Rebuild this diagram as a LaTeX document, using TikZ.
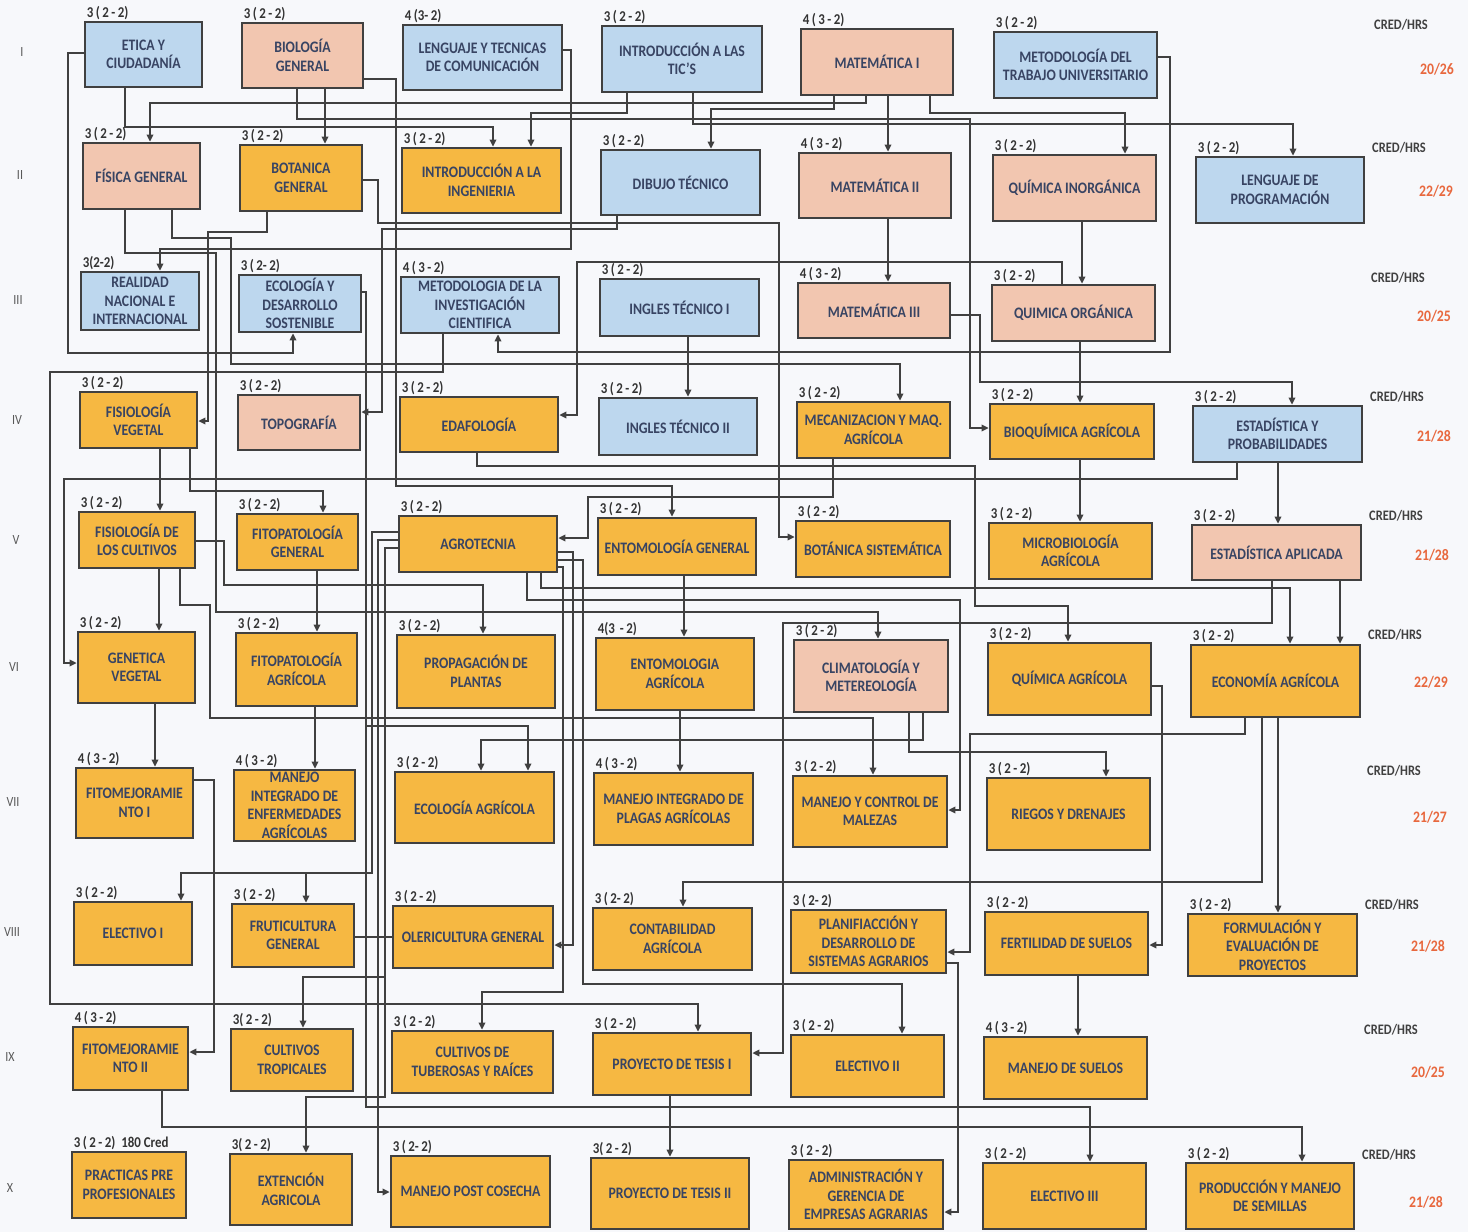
\documentclass[tikz,border=0pt]{standalone}
\usepackage{fontspec}
\setmainfont{Carlito}[FakeStretch=0.86]
\usetikzlibrary{arrows.meta}
\definecolor{cB}{HTML}{BDD7EE}
\definecolor{cS}{HTML}{F2C6B0}
\definecolor{cO}{HTML}{F6B842}
\definecolor{cT}{HTML}{384463}
\definecolor{cL}{HTML}{404040}
\definecolor{cBG}{HTML}{F7F8FB}
\definecolor{cR}{HTML}{E8683E}
\pgfdeclarelayer{bg}
\pgfsetlayers{bg,main}
\newcommand{\crA}{3\,(\,2\,-\,2)}
\newcommand{\crB}{4\,(\,3\,-\,2)}
\newcommand{\bx}[8]{%
  \node[box,fill=#6,minimum width=#4,minimum height=#5] (#1) at (#2,#3) {#7};
  \node[cred] (#1c) at ([xshift=2pt]#1.north west) {#8};}
\tikzset{
  box/.style={draw=cL,line width=2.7pt,inner sep=1pt,align=center,text=cT,
    font=\fontsize{16}{18.5}\selectfont\bfseries},
  cred/.style={anchor=south west,inner sep=1pt,text=black!80,
    font=\fontsize{15}{15}\selectfont\bfseries},
  conn/.style={draw=cL,line width=2.1pt},
  arr/.style={conn,-{Triangle[length=7pt,width=6.5pt]}},
  roman/.style={text=black!65,font=\fontsize{14}{14}\selectfont},
  chr/.style={text=black!75,font=\fontsize{14.5}{15}\selectfont\bfseries},
  num/.style={text=cR,font=\fontsize{16}{16}\selectfont\bfseries}
}
\begin{document}
\begin{tikzpicture}[x=1pt,y=-1pt]
\useasboundingbox (0,0) rectangle (1468,1232);
% Row I
\bx{eti}{143.5}{54.5}{117}{65}{cB}{ETICA Y\\CIUDADANÍA}{\crA}
\bx{bio}{302.5}{55.5}{121}{65}{cS}{BIOLOGÍA\\GENERAL}{\crA}
\bx{len}{482.5}{57.5}{159}{65}{cB}{LENGUAJE Y TECNICAS\\DE COMUNICACIÓN}{4\,(3-\,2)}
\bx{tic}{682}{59}{160}{66}{cB}{INTRODUCCIÓN A LAS\\TIC’S}{\crA}
\bx{ma1}{877}{62}{152}{66}{cS}{MATEMÁTICA I}{\crB}
\bx{mtu}{1075.5}{65}{163}{66}{cB}{METODOLOGÍA DEL\\TRABAJO UNIVERSITARIO}{\crA}
% Row II
\bx{fis}{141.5}{176}{117}{66}{cS}{FÍSICA GENERAL}{\crA}
\bx{bot}{301}{178}{122}{66}{cO}{BOTANICA\\GENERAL}{\crA}
\bx{ing}{481.5}{180.5}{159}{65}{cO}{INTRODUCCIÓN A LA\\INGENIERIA}{\crA}
\bx{dib}{680.5}{182.5}{159}{65}{cB}{DIBUJO TÉCNICO}{\crA}
\bx{ma2}{875}{185.5}{152}{65}{cS}{MATEMÁTICA II}{\crB}
\bx{qin}{1074.5}{188}{163}{66}{cS}{QUÍMICA INORGÁNICA}{\crA}
\bx{lpr}{1280}{190}{168}{66}{cB}{LENGUAJE DE\\PROGRAMACIÓN}{\crA}
% Row III
\bx{rea}{140}{301}{118}{58}{cB}{\fontsize{16}{17}\selectfont REALIDAD\\NACIONAL E\\INTERNACIONAL}{3(2-2)}
\bx{eco}{300}{303.5}{122}{57}{cB}{\fontsize{16}{17}\selectfont ECOLOGÍA Y\\DESARROLLO\\SOSTENIBLE}{3\,(\,2-\,2)}
\bx{mic}{480}{305}{158}{56}{cB}{\fontsize{16}{17}\selectfont METODOLOGIA DE LA\\INVESTIGACIÓN\\CIENTIFICA}{\crB}
\bx{in1}{679.5}{307.5}{159}{57}{cB}{INGLES TÉCNICO I}{\crA}
\bx{ma3}{874}{310.5}{152}{55}{cS}{MATEMÁTICA III}{\crB}
\bx{qor}{1073.5}{313}{163}{56}{cS}{QUIMICA ORGÁNICA}{\crA}
% Row IV
\bx{fve}{138.5}{420}{117}{56}{cO}{FISIOLOGÍA\\VEGETAL}{\crA}
\bx{top}{299}{422.5}{122}{55}{cS}{TOPOGRAFÍA}{\crA}
\bx{eda}{479}{424.5}{158}{55}{cO}{EDAFOLOGÍA}{\crA}
\bx{in2}{678}{426.5}{158}{57}{cB}{INGLES TÉCNICO II}{\crA}
\bx{mec}{873.5}{430}{153}{56}{cO}{MECANIZACION Y MAQ.\\AGRÍCOLA}{\crA}
\bx{bqa}{1072}{431.5}{164}{55}{cO}{BIOQUÍMICA AGRÍCOLA}{\crA}
\bx{epr}{1277.5}{434}{169}{56}{cB}{ESTADÍSTICA Y\\PROBABILIDADES}{\crA}
% Row V
\bx{fcu}{137}{540}{116}{56}{cO}{FISIOLOGÍA DE\\LOS CULTIVOS}{\crA}
\bx{fge}{297.5}{542}{121}{56}{cO}{FITOPATOLOGÍA\\GENERAL}{\crA}
\bx{agr}{478}{544}{158}{56}{cO}{AGROTECNIA}{\crA}
\bx{ege}{677}{546.5}{158}{57}{cO}{ENTOMOLOGÍA GENERAL}{\crA}
\bx{bsi}{873}{549}{154}{56}{cO}{BOTÁNICA SISTEMÁTICA}{\crA}
\bx{mba}{1070.5}{551}{163}{56}{cO}{MICROBIOLOGÍA\\AGRÍCOLA}{\crA}
\bx{eap}{1276.5}{552.5}{169}{55}{cS}{ESTADÍSTICA APLICADA}{\crA}
% Row VI
\bx{gve}{136.5}{667.5}{117}{71}{cO}{GENETICA\\VEGETAL}{\crA}
\bx{fag}{296.5}{669.5}{121}{73}{cO}{FITOPATOLOGÍA\\AGRÍCOLA}{\crA}
\bx{ppl}{476}{671.5}{158}{73}{cO}{PROPAGACIÓN DE\\PLANTAS}{\crA}
\bx{eag}{675}{674}{158}{72}{cO}{ENTOMOLOGIA\\AGRÍCOLA}{4(3\,\,-\,2)}
\bx{cli}{871}{676}{154}{72}{cS}{CLIMATOLOGÍA Y\\METEREOLOGÍA}{\crA}
\bx{qag}{1069.5}{679}{163}{72}{cO}{QUÍMICA AGRÍCOLA}{\crA}
\bx{eca}{1275.5}{681}{169}{72}{cO}{ECONOMÍA AGRÍCOLA}{\crA}
% Row VII
\bx{fm1}{134.5}{803}{117}{70}{cO}{FITOMEJORAMIE\\NTO I}{\crB}
\bx{mie}{294.5}{805.5}{121}{71}{cO}{\fontsize{16}{17.5}\selectfont MANEJO\\INTEGRADO DE\\ENFERMEDADES\\AGRÍCOLAS}{\crB}
\bx{eag2}{474.5}{807.5}{159}{71}{cO}{ECOLOGÍA AGRÍCOLA}{\crA}
\bx{mip}{673.5}{809}{159}{72}{cO}{MANEJO INTEGRADO DE\\PLAGAS AGRÍCOLAS}{\crB}
\bx{mcm}{870}{811.5}{154}{71}{cO}{MANEJO Y CONTROL DE\\MALEZAS}{\crA}
\bx{rie}{1068.5}{814}{163}{72}{cO}{RIEGOS Y DRENAJES}{\crA}
% Row VIII
\bx{el1}{133}{933.5}{118}{63}{cO}{ELECTIVO I}{\crA}
\bx{fru}{293}{935.5}{122}{63}{cO}{FRUTICULTURA\\GENERAL}{\crA}
\bx{ole}{473}{937}{160}{62}{cO}{OLERICULTURA GENERAL}{\crA}
\bx{con}{672.5}{939}{159}{62}{cO}{CONTABILIDAD\\AGRÍCOLA}{3\,(\,2-\,2)}
\bx{pla}{868.5}{941.5}{155}{63}{cO}{\fontsize{16}{18}\selectfont PLANIFIACCIÓN Y\\DESARROLLO DE\\SISTEMAS AGRARIOS}{3\,(\,2-\,2)}
\bx{fer}{1066.5}{943.5}{163}{63}{cO}{FERTILIDAD DE SUELOS}{\crA}
\bx{for}{1272.5}{945}{169}{62}{cO}{\fontsize{16}{18}\selectfont FORMULACIÓN Y\\EVALUACIÓN DE\\PROYECTOS}{\crA}
% Row IX
\bx{fm2}{130.5}{1058.5}{115}{63}{cO}{FITOMEJORAMIE\\NTO II}{\crB}
\bx{ctr}{292}{1060}{122}{62}{cO}{CULTIVOS\\TROPICALES}{3(\,2\,-\,2)}
\bx{ctu}{472.5}{1062}{161}{62}{cO}{CULTIVOS DE\\TUBEROSAS Y RAÍCES}{\crA}
\bx{pt1}{672}{1064}{158}{62}{cO}{PROYECTO DE TESIS I}{\crA}
\bx{el2}{867.5}{1066}{153}{62}{cO}{ELECTIVO II}{\crA}
\bx{msu}{1065.5}{1068}{163}{62}{cO}{MANEJO DE SUELOS}{\crB}
% Row X
\bx{ppp}{129}{1185}{114}{66}{cO}{PRACTICAS PRE\\PROFESIONALES}{\crA\ \ 180 Cred}
\bx{ext}{291}{1189.5}{122}{71}{cO}{EXTENCIÓN\\AGRICOLA}{3(\,2\,-\,2)}
\bx{mpc}{470.5}{1191.5}{159}{71}{cO}{MANEJO POST COSECHA}{3\,(\,2-\,2)}
\bx{pt2}{670}{1193.5}{158}{71}{cO}{PROYECTO DE TESIS II}{3(\,2\,-\,2)}
\bx{adm}{866}{1194.5}{154}{69}{cO}{\fontsize{16}{18.5}\selectfont ADMINISTRACIÓN Y\\GERENCIA DE\\EMPRESAS AGRARIAS}{\crA}
\bx{el3}{1064.5}{1196}{163}{66}{cO}{ELECTIVO III}{\crA}
\bx{pms}{1270}{1196}{168}{66}{cO}{PRODUCCIÓN Y MANEJO\\DE SEMILLAS}{\crA}
% Roman numerals
\node[roman] (r1) at (22,52) {I};
\node[roman] (r2) at (20,175) {II};
\node[roman] (r3) at (18,300) {III};
\node[roman] (r4) at (17,420) {IV};
\node[roman] (r5) at (16,540) {V};
\node[roman] (r6) at (14,667) {VI};
\node[roman] (r7) at (13,802) {VII};
\node[roman] (r8) at (12,932) {VIII};
\node[roman] (r9) at (10,1057) {IX};
\node[roman] (r10) at (10,1188) {X};
% CRED/HRS
\node[chr] (h1) at (1401,25) {CRED/HRS};
\node[chr] (h2) at (1399,148) {CRED/HRS};
\node[chr] (h3) at (1398,278) {CRED/HRS};
\node[chr] (h4) at (1397,397) {CRED/HRS};
\node[chr] (h5) at (1396,516) {CRED/HRS};
\node[chr] (h6) at (1395,635) {CRED/HRS};
\node[chr] (h7) at (1394,771) {CRED/HRS};
\node[chr] (h8) at (1392,905) {CRED/HRS};
\node[chr] (h9) at (1391,1030) {CRED/HRS};
\node[chr] (h10) at (1389,1155) {CRED/HRS};
\node[num] (n1) at (1437,69) {20/26};
\node[num] (n2) at (1436,191) {22/29};
\node[num] (n3) at (1434,316) {20/25};
\node[num] (n4) at (1434,436) {21/28};
\node[num] (n5) at (1432,555) {21/28};
\node[num] (n6) at (1431,682) {22/29};
\node[num] (n7) at (1430,817) {21/27};
\node[num] (n8) at (1428,946) {21/28};
\node[num] (n9) at (1428,1072) {20/25};
\node[num] (n10) at (1426,1202) {21/28};
\begin{pgfonlayer}{bg}
\fill[cBG] (0,0) rectangle (1468,1232);
\coordinate (j0) at (366,726);
\coordinate (j1) at (306,873);
\coordinate (j2) at (385,977);
\draw[arr] (eti.west |- 0,53) -- (68,53) -- (68,353) -- (293,353) -- (eco.south -| 293,0);
\draw[arr] (eti.south -| 125,0) -- (125,127) -- (493,127) -- (ing.north -| 493,0);
\draw[arr] (bio.south -| 325,0) -- (bot.north -| 325,0);
\draw[arr] (bio.south -| 297,0) -- (297,119) -- (970,119) -- (970,428) -- (bqa.west |- 0,428);
\draw[arr] (bio.east |- 0,79) -- (396,79) -- (396,486) -- (672,486) -- (ege.north -| 672,0);
\draw[arr] (len.east |- 0,50) -- (571,50) -- (571,249) -- (160,249) -- (rea.north -| 160,0);
\draw[arr] (tic.south -| 627,0) -- (627,113) -- (531,113) -- (ing.north -| 531,0);
\draw[arr] (tic.south -| 693,0) -- (693,124) -- (1293,124) -- (lpr.north -| 1293,0);
\draw[arr] (ma1.south -| 866,0) -- (866,103) -- (150,103) -- (fis.north -| 150,0);
\draw[arr] (ma1.south -| 834,0) -- (834,109) -- (711,109) -- (dib.north -| 711,0);
\draw[arr] (ma1.south -| 888,0) -- (ma2.north -| 888,0);
\draw[arr] (ma1.south -| 930,0) -- (930,113) -- (1125,113) -- (qin.north -| 1125,0);
\draw[arr] (mtu.east |- 0,57) -- (1170,57) -- (1170,352) -- (498,352) -- (mic.south -| 498,0);
\draw[arr] (bot.south -| 267,0) -- (267,232) -- (208,232) -- (208,421) -- (fve.east |- 0,421);
\draw[arr] (fis.south -| 125,0) -- (125,253) -- (216,253) -- (216,612) -- (878,612) -- (cli.north -| 878,0);
\draw[arr] (fis.south -| 172,0) -- (172,238) -- (231,238) -- (231,364) -- (900,364) -- (mec.north -| 900,0);
\draw[arr] (dib.south -| 617,0) -- (617,229) -- (382,229) -- (382,412) -- (top.east |- 0,412);
\draw[arr] (bot.east |- 0,180) -- (378,180) -- (378,223) -- (779,223) -- (779,537) -- (bsi.west |- 0,537);
\draw[arr] (ma2.south -| 888,0) -- (ma3.north -| 888,0);
\draw[arr] (qin.south -| 1082,0) -- (qor.north -| 1082,0);
\draw[arr] (qor.north -| 1062,0) -- (1062,262) -- (577,262) -- (577,415) -- (eda.east |- 0,415);
\draw[arr] (in1.south -| 688,0) -- (in2.north -| 688,0);
\draw[arr] (ma3.east |- 0,315) -- (980,315) -- (980,382) -- (1292,382) -- (epr.north -| 1292,0);
\draw[arr] (qor.south -| 1080,0) -- (bqa.north -| 1080,0);
\draw[arr] (eco.east |- 0,292) -- (366,292) -- (j0) -- (528,726) -- (eag2.north -| 528,0);
\draw[arr] (j0) -- (366,1107) -- (1090,1107) -- (el3.north -| 1090,0);
\draw[arr] (fve.south -| 160,0) -- (fcu.north -| 160,0);
\draw[arr] (fve.south -| 190,0) -- (190,491) -- (323,491) -- (fge.north -| 323,0);
\draw[arr] (eda.south -| 477,0) -- (477,466) -- (975,466) -- (975,606) -- (1068,606) -- (qag.north -| 1068,0);
\draw[arr] (mec.south -| 833,0) -- (833,497) -- (588,497) -- (588,538) -- (agr.east |- 0,538);
\draw[arr] (bqa.south -| 1080,0) -- (mba.north -| 1080,0);
\draw[arr] (epr.south -| 1278,0) -- (eap.north -| 1278,0);
\draw[arr] (epr.south -| 1237,0) -- (1237,479) -- (64,479) -- (64,663) -- (gve.west |- 0,663);
\draw[arr] (fcu.south -| 159,0) -- (gve.north -| 159,0);
\draw[arr] (fcu.east |- 0,541) -- (224,541) -- (224,585) -- (483,585) -- (ppl.north -| 483,0);
\draw[arr] (fcu.south -| 180,0) -- (180,605) -- (210,605) -- (210,718) -- (873,718) -- (mcm.north -| 873,0);
\draw[arr] (fge.south -| 317,0) -- (fag.north -| 317,0);
\draw[arr] (ege.south -| 684,0) -- (eag.north -| 684,0);
\draw[arr] (agr.south -| 541,0) -- (541,588) -- (1290,588) -- (eca.north -| 1290,0);
\draw[arr] (agr.south -| 527,0) -- (527,600) -- (960,600) -- (960,810) -- (mcm.east |- 0,810);
\draw[arr] (eap.south -| 1272,0) -- (1272,623) -- (783,623) -- (783,1053) -- (pt1.east |- 0,1053);
\draw[arr] (eap.south -| 1340,0) -- (eca.north -| 1340,0);
\draw[arr] (cli.south -| 923,0) -- (923,740) -- (481,740) -- (eag2.north -| 481,0);
\draw[arr] (cli.south -| 909,0) -- (909,752) -- (1106,752) -- (rie.north -| 1106,0);
\draw[arr] (eag.south -| 680,0) -- (mip.north -| 680,0);
\draw[arr] (fag.south -| 315,0) -- (mie.north -| 315,0);
\draw[arr] (gve.south -| 155,0) -- (fm1.north -| 155,0);
\draw[arr] (qag.east |- 0,686) -- (1162,686) -- (1162,945) -- (fer.east |- 0,945);
\draw[arr] (eca.south -| 1245,0) -- (1245,734) -- (970,734) -- (970,952) -- (pla.east |- 0,952);
\draw[arr] (eca.south -| 1262,0) -- (1262,882) -- (683,882) -- (con.north -| 683,0);
\draw[arr] (eca.south -| 1278,0) -- (for.north -| 1278,0);
\draw[arr] (fm1.east |- 0,780) -- (214,780) -- (214,1052) -- (fm2.east |- 0,1052);
\draw[arr] (mic.south -| 443,0) -- (443,372) -- (50,372) -- (50,1004) -- (698,1004) -- (pt1.north -| 698,0);
\draw[arr] (agr.east |- 0,552) -- (573,552) -- (573,945) -- (ole.east |- 0,945);
\draw[arr] (agr.east |- 0,567) -- (563,567) -- (563,992) -- (482,992) -- (ctu.north -| 482,0);
\draw[arr] (agr.east |- 0,560) -- (583,560) -- (583,984) -- (902,984) -- (el2.north -| 902,0);
\draw[arr] (agr.west |- 0,532) -- (372,532) -- (372,873) -- (181,873) -- (el1.north -| 181,0);
\draw[arr] (j1) -- (fru.north -| 306,0);
\draw[arr] (agr.west |- 0,540) -- (378,540) -- (378,1192) -- (mpc.west |- 0,1192);
\draw[arr] (agr.west |- 0,548) -- (385,548) -- (j2) -- (303,977) -- (ctr.north -| 303,0);
\draw[arr] (j2) -- (385,1097) -- (306,1097) -- (ext.north -| 306,0);
\draw[arr] (fm2.south -| 162,0) -- (162,1127) -- (1302,1127) -- (pms.north -| 1302,0);
\draw[arr] (pt1.south -| 670,0) -- (pt2.north -| 670,0);
\draw[arr] (fer.south -| 1078,0) -- (msu.north -| 1078,0);
\draw[arr] (pla.east |- 0,963) -- (958,963) -- (958,1212) -- (adm.east |- 0,1212);
\draw[conn] (fru.east |- 0,937) -- (ole.west |- 0,937);
\end{pgfonlayer}
\end{tikzpicture}
\end{document}
